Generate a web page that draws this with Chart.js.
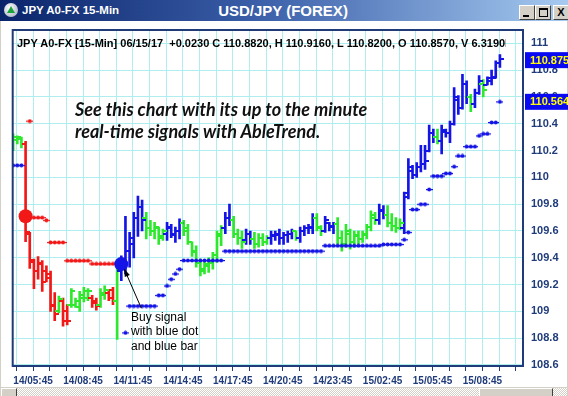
<!DOCTYPE html>
<html>
<head>
<meta charset="utf-8">
<script src="https://cdn.jsdelivr.net/npm/chart.js@4.4.1/dist/chart.umd.min.js"></script>
<style>
  html, body { margin: 0; padding: 0; }
  body { width: 568px; height: 396px; overflow: hidden; position: relative; background: #d4d0c8;
         font-family: Arial, "Liberation Sans", sans-serif; }
  #client { position: absolute; left: 1px; top: 21px; width: 566px; height: 366px; background: #fff; }
  #chart { position: absolute; left: 0; top: 0; z-index: 1; }
  #titlebar { position: absolute; left: 0; top: 0; width: 568px; height: 21px; z-index: 3;
              background: linear-gradient(to right, #0a246a 0%, #3a5ea8 45%, #a6caf0 100%); color: #fff; font-weight: bold; }
  #titlebar .icon { position: absolute; left: 4px; top: 3px; width: 14px; height: 14px; border-radius: 50%;
                    background: radial-gradient(circle at 40% 35%, #ffffff, #9aa4b8); }
  #titlebar .icon::after { content: ""; position: absolute; left: 3px; top: 3px; border-left: 4px solid transparent;
                    border-right: 4px solid transparent; border-bottom: 7px solid #1ca43c; }
  #titlebar .left { position: absolute; left: 22px; top: 4px; font-size: 11.5px; line-height: 13px; }
  #titlebar .center { position: absolute; left: 0; width: 566px; top: 2px; text-align: center; font-size: 15px; line-height: 17px; }
  .wbtn { position: absolute; top: 5px; width: 14px; height: 13px; background: #d4d0c8; border: 1px solid;
          border-color: #fff #404040 #404040 #fff; color: #000; font-size: 11px; line-height: 13px; text-align: center; }
  #bmin { left: 519px; } #bmax { left: 535px; } #bclose { left: 553px; }
  #bmin::after { content: ""; position: absolute; left: 3px; top: 9px; width: 6px; height: 2px; background: #000; }
  #bmax::after { content: ""; position: absolute; left: 3px; top: 2px; width: 7px; height: 6px; border: 1px solid #000; border-top-width: 2px; }
  #scroll { position: absolute; left: 1px; top: 388px; width: 566px; height: 8px; z-index: 3;
            background-image: repeating-conic-gradient(#ffffff 0 25%, #d4d0c8 0 50%); background-size: 2px 2px; }
  #scroll .sb { position: absolute; top: 0; height: 7px; background: #d4d0c8; border: 1px solid; border-color: #fff #404040 #404040 #fff; border-bottom: 0; }
  .txt { position: absolute; z-index: 2; white-space: nowrap; color: #000; }
  #header { left: 17px; top: 37px; width: 489px; overflow: hidden; font-size: 11px; font-weight: bold; line-height: 13px; }
  #promo { left: 75px; top: 98px; font-family: Lato, "Open Sans", sans-serif; font-style: italic; font-weight: bold;
           font-size: 18px; line-height: 22px; color: #111; }
  #note { left: 131px; top: 310px; font-size: 12px; line-height: 14.3px; }
</style>
</head>
<body>
<div id="client"></div>
<canvas id="chart" width="568" height="396"></canvas>

<div id="titlebar">
  <div class="icon"></div>
  <div class="left">JPY A0-FX 15-Min</div>
  <div class="center">USD/JPY (FOREX)</div>
  <div class="wbtn" id="bmin"></div>
  <div class="wbtn" id="bmax"></div>
  <div class="wbtn" id="bclose"><b>X</b></div>
</div>
<div id="scroll"><div class="sb" style="left:0;width:14px"></div><div class="sb" style="left:478px;width:72px"></div></div>

<div class="txt" id="header">JPY A0-FX [15-Min] 06/15/17&nbsp; +0.0230 C 110.8820, H 110.9160, L 110.8200, O 110.8570, V 6.3190K</div>
<div class="txt" id="promo">See this chart with its up to the minute<br>real-time signals with AbleTrend.</div>
<div class="txt" id="note">Buy signal<br>with blue dot<br>and blue bar</div>

<script>
// 15-minute bars, one entry per bar (index 0 = first bar on the left)
const timeLabels = ['14/05:45', '14/08:45', '14/11:45', '14/14:45', '14/17:45',
                    '14/20:45', '14/23:45', '15/02:45', '15/05:45', '15/08:45'];
const yTicks = [108.6, 108.8, 109, 109.2, 109.4, 109.6, 109.8, 110, 110.2, 110.4, 110.6, 110.8, 111];

const opens = [
  110.22, 110.28, 110.29, 110.25, 109.58, 109.37, 109.30, 109.35, 109.30, 109.28,
  109.05, 109.00, 109.08, 109.00, 109.05, 109.05, 109.03, 109.10, 109.10, 109.10,
  109.08, 109.05, 109.12, 109.14, 109.16, 109.08, 109.30, 109.35, 109.45, 109.50,
  109.70, 109.78, 109.70, 109.62, 109.60, 109.62, 109.55, 109.58, 109.62, 109.57,
  109.60, 109.66, 109.62, 109.52, 109.45, 109.36, 109.30, 109.34, 109.36, 109.42,
  109.56, 109.62, 109.70, 109.68, 109.58, 109.55, 109.53, 109.58, 109.54, 109.50,
  109.55, 109.52, 109.55, 109.56, 109.57, 109.55, 109.57, 109.58, 109.60, 109.55,
  109.60, 109.62, 109.62, 109.70, 109.62, 109.60, 109.66, 109.63, 109.65, 109.55,
  109.50, 109.58, 109.52, 109.56, 109.54, 109.57, 109.63, 109.70, 109.68, 109.75,
  109.72, 109.66, 109.64, 109.62, 109.62, 109.88, 110.05, 110.02, 110.08, 110.10,
  110.20, 110.33, 110.30, 110.27, 110.34, 110.33, 110.40, 110.58, 110.52, 110.70,
  110.60, 110.55, 110.63, 110.70, 110.69, 110.72, 110.75, 110.857
];
const highs = [
  110.325, 110.31, 110.30, 110.27, 109.59, 109.39, 109.41, 109.38, 109.34, 109.30,
  109.14, 109.115, 109.10, 109.05, 109.17, 109.10, 109.15, 109.18, 109.17, 109.12,
  109.10, 109.17, 109.19, 109.15, 109.18, 109.32, 109.415, 109.71, 109.59, 109.74,
  109.86, 109.83, 109.74, 109.68, 109.665, 109.63, 109.615, 109.665, 109.65, 109.63,
  109.69, 109.68, 109.65, 109.52, 109.49, 109.39, 109.38, 109.40, 109.44, 109.60,
  109.64, 109.74, 109.80, 109.71, 109.615, 109.60, 109.615, 109.60, 109.59, 109.58,
  109.58, 109.565, 109.60, 109.60, 109.615, 109.59, 109.60, 109.615, 109.60, 109.63,
  109.64, 109.65, 109.73, 109.73, 109.64, 109.71, 109.665, 109.665, 109.70, 109.60,
  109.65, 109.615, 109.60, 109.60, 109.60, 109.65, 109.75, 109.74, 109.80, 109.79,
  109.79, 109.73, 109.70, 109.69, 109.89, 110.14, 110.09, 110.11, 110.24, 110.24,
  110.39, 110.36, 110.36, 110.39, 110.36, 110.42, 110.67, 110.61, 110.77, 110.72,
  110.62, 110.66, 110.76, 110.73, 110.75, 110.80, 110.87, 110.916
];
const lows = [
  110.20, 110.25, 110.22, 109.52, 109.32, 109.17, 109.24, 109.15, 109.22, 109.00,
  108.93, 108.99, 108.89, 108.90, 109.03, 109.03, 109.00, 109.07, 109.08, 109.03,
  109.01, 109.03, 109.09, 109.08, 109.05, 108.79, 109.23, 109.28, 109.33, 109.40,
  109.56, 109.60, 109.54, 109.565, 109.54, 109.50, 109.53, 109.53, 109.55, 109.515,
  109.54, 109.565, 109.50, 109.41, 109.33, 109.265, 109.28, 109.29, 109.315, 109.365,
  109.49, 109.58, 109.64, 109.55, 109.50, 109.47, 109.50, 109.50, 109.47, 109.48,
  109.49, 109.50, 109.50, 109.53, 109.50, 109.50, 109.515, 109.54, 109.53, 109.515,
  109.565, 109.58, 109.58, 109.60, 109.565, 109.59, 109.60, 109.58, 109.50, 109.45,
  109.48, 109.465, 109.48, 109.50, 109.515, 109.54, 109.60, 109.65, 109.65, 109.69,
  109.63, 109.60, 109.59, 109.61, 109.58, 109.84, 109.99, 110.00, 110.04, 110.06,
  110.19, 110.26, 110.25, 110.175, 110.30, 110.26, 110.39, 110.47, 110.51, 110.55,
  110.49, 110.52, 110.62, 110.60, 110.69, 110.69, 110.74, 110.82
];
const closes = [
  110.30, 110.30, 110.25, 109.59, 109.38, 109.30, 109.36, 109.22, 109.25, 109.04,
  108.98, 109.09, 108.93, 108.93, 109.15, 109.08, 109.12, 109.15, 109.15, 109.06,
  109.04, 109.14, 109.16, 109.10, 109.08, 109.30, 109.38, 109.45, 109.55, 109.70,
  109.78, 109.68, 109.62, 109.60, 109.63, 109.56, 109.60, 109.63, 109.58, 109.60,
  109.66, 109.60, 109.52, 109.44, 109.36, 109.32, 109.35, 109.37, 109.42, 109.58,
  109.62, 109.70, 109.68, 109.58, 109.55, 109.52, 109.58, 109.54, 109.50, 109.55,
  109.52, 109.55, 109.57, 109.58, 109.55, 109.57, 109.58, 109.60, 109.55, 109.60,
  109.62, 109.63, 109.70, 109.63, 109.60, 109.68, 109.64, 109.65, 109.55, 109.50,
  109.60, 109.52, 109.57, 109.54, 109.58, 109.63, 109.72, 109.68, 109.76, 109.72,
  109.66, 109.64, 109.62, 109.66, 109.85, 110.08, 110.02, 110.08, 110.10, 110.12,
  110.33, 110.30, 110.27, 110.35, 110.33, 110.40, 110.60, 110.52, 110.70, 110.60,
  110.55, 110.63, 110.72, 110.65, 110.74, 110.74, 110.85, 110.882
];
// bar colour per bar: g = green, r = red (sell), b = blue (buy)
const trend = ('ggg' + 'rrrrrrrr' + 'g' + 'rr' + 'ggggg' + 'rr' + 'gg' + 'rr' + 'g' + 'bbbbbb' +
  'ggggg' + 'bbbb' + 'gggggggggg' + 'bb' + 'ggg' + 'bb' + 'gggg' + 'bbbbbb' + 'g' + 'bbbb' + 'gg' +
  'bbb' + 'gggggggggg' + 'bb' + 'gggg' + 'bbbbbbbb' + 'g' + 'bbbbbbb' + 'g' + 'bb' + 'g' + 'bbbb').split('');

// stop dots (null = no dot on that bar)
const blueStops = [
  110.09, 110.09, 110.09, null, null, null, null, null, null, null,
  null, null, null, null, null, null, null, null, null, null,
  null, null, null, null, null, null, null, 108.84, 109.04, 109.04,
  109.04, 109.04, 109.04, 109.04, 109.04, 109.12, 109.12, 109.19, 109.24, 109.28,
  109.315, 109.38, 109.38, 109.38, 109.38, 109.38, 109.38, 109.38, 109.38, 109.38,
  109.38, 109.45, 109.45, 109.45, 109.45, 109.45, 109.45, 109.45, 109.45, 109.45,
  109.45, 109.45, 109.45, 109.45, 109.45, 109.45, 109.45, 109.45, 109.45, 109.45,
  109.45, 109.45, 109.45, 109.45, 109.45, 109.49, 109.49, 109.49, 109.49, 109.49,
  109.49, 109.49, 109.49, 109.49, 109.49, 109.49, 109.49, 109.49, 109.49, 109.50,
  109.50, 109.50, 109.50, 109.50, 109.535, 109.59, 109.76, 109.76, 109.80, 109.80,
  109.91, 110.01, 110.01, 110.01, 110.03, 110.03, 110.08, 110.16, 110.16, 110.23,
  110.23, 110.23, 110.31, 110.325, 110.325, 110.41, 110.41, 110.564
];
const redStops = [
  null, null, null, null, 110.42, 109.70, 109.70, 109.70, 109.68, 109.515,
  109.515, 109.515, 109.515, 109.378, 109.378, 109.378, 109.378, 109.378, 109.378, 109.355,
  109.355, 109.355, 109.355, 109.355, 109.355, 109.355
];

// big signal dots
const signalBars = [3, 26];
const signalPrices = [109.71, 109.353];
const signalTrend = ['r', 'b'];

// price tags on the right axis
const priceTags = [110.875, 110.564];

const COLORS = { r: '#f21818', g: '#2ee82e', b: '#1414e6' };
const FONT = '"Liberation Sans", Arial, sans-serif';
const NAVY = '#1f3b7a';
const GRID_OFFSET = 0.8;   // first hourly grid line, in bars

function tickImage(color, side) {
  const c = document.createElement('canvas');
  c.width = 8; c.height = 2;
  const g = c.getContext('2d');
  g.fillStyle = color;
  g.fillRect(side === 'open' ? 0 : 4, 0, 4, 2);
  return c;
}
function dotImage(color) {
  const c = document.createElement('canvas');
  c.width = 7; c.height = 5;
  const g = c.getContext('2d');
  g.fillStyle = color;
  g.fillRect(0, 2, 7, 1.2);
  g.beginPath(); g.arc(3.5, 2.5, 2, 0, Math.PI * 2); g.fill();
  return c;
}
const openImgs = {}, closeImgs = {};
Object.keys(COLORS).forEach(k => { openImgs[k] = tickImage(COLORS[k], 'open'); closeImgs[k] = tickImage(COLORS[k], 'close'); });

const framePlugin = {
  id: 'frameAndTags',
  afterDraw(chart) {
    const { ctx, chartArea: a, scales } = chart;
    ctx.save();
    ctx.strokeStyle = NAVY;
    ctx.lineWidth = 2;
    ctx.strokeRect(a.left, a.top, a.right - a.left, a.bottom - a.top);

    // arrow pointing at the buy signal
    const sx = scales.x.getPixelForValue(signalBars[1]);
    const sy = scales.y.getPixelForValue(signalPrices[1]);
    const tip = [sx + 3, sy + 5], tail = [sx + 20, sy + 44];
    const ang = Math.atan2(tip[1] - tail[1], tip[0] - tail[0]);
    ctx.strokeStyle = '#000'; ctx.fillStyle = '#000'; ctx.lineWidth = 1;
    ctx.beginPath(); ctx.moveTo(tail[0], tail[1]); ctx.lineTo(tip[0], tip[1]); ctx.stroke();
    ctx.beginPath();
    ctx.moveTo(tip[0], tip[1]);
    ctx.lineTo(tip[0] - 8 * Math.cos(ang - 0.35), tip[1] - 8 * Math.sin(ang - 0.35));
    ctx.lineTo(tip[0] - 8 * Math.cos(ang + 0.35), tip[1] - 8 * Math.sin(ang + 0.35));
    ctx.closePath(); ctx.fill();

    // price tags
    ctx.font = 'bold 11px ' + FONT;
    ctx.textBaseline = 'middle';
    priceTags.forEach(v => {
      const y = scales.y.getPixelForValue(v);
      ctx.fillStyle = '#0a0af2';
      ctx.fillRect(a.right + 2, y - 8, chart.width - a.right - 2, 16);
      ctx.fillStyle = '#ffff00';
      ctx.fillText(v.toFixed(3), a.right + 7, y + 0.5);
    });
    ctx.restore();
  }
};

new Chart(document.getElementById('chart'), {
  type: 'bar',
  data: {
    datasets: [
      {
        type: 'line', label: 'signals', order: 0, showLine: false,
        data: signalBars.map((x, k) => ({ x, y: signalPrices[k] })),
        pointRadius: 7, pointBorderWidth: 0,
        pointBackgroundColor: signalTrend.map(t => COLORS[t])
      },
      {
        type: 'line', label: 'blue stops', order: 1, showLine: false,
        data: blueStops.map((y, x) => ({ x, y })),
        pointStyle: dotImage(COLORS.b)
      },
      {
        type: 'line', label: 'red stops', order: 1, showLine: false,
        data: redStops.map((y, x) => ({ x, y })),
        pointStyle: dotImage(COLORS.r)
      },
      {
        type: 'line', label: 'open', order: 2, showLine: false,
        data: opens.map((y, x) => ({ x, y })),
        pointStyle: c => openImgs[trend[c.dataIndex]]
      },
      {
        type: 'line', label: 'close', order: 2, showLine: false,
        data: closes.map((y, x) => ({ x, y })),
        pointStyle: c => closeImgs[trend[c.dataIndex]]
      },
      {
        type: 'bar', label: 'range', order: 3,
        data: highs.map((h, x) => ({ x, y: [lows[x], h] })),
        backgroundColor: trend.map(t => COLORS[t]),
        barThickness: 2, borderWidth: 0
      }
    ]
  },
  options: {
    responsive: false,
    animation: false,
    events: [],
    layout: { padding: { left: 12.7, top: 30, right: 0, bottom: 0 } },
    plugins: { legend: { display: false }, tooltip: { enabled: false } },
    scales: {
      x: {
        type: 'linear', min: -0.1, max: 122.55, offset: false,
        grid: { color: '#aeeeee', lineWidth: 1, offset: false, drawTicks: true, tickLength: 5, tickColor: NAVY },
        border: { display: false },
        afterBuildTicks: s => {
          const t = [];
          for (let v = GRID_OFFSET; v <= s.max; v += 4) t.push({ value: v });
          s.ticks = t;
        },
        afterFit: s => { s.height = 30; },
        ticks: {
          autoSkip: false, maxRotation: 0, padding: 4, color: NAVY,
          font: { family: FONT, size: 10, weight: 'bold' },
          callback: (v, i) => ((i - 1) % 3 === 0 && timeLabels[(i - 1) / 3]) || ''
        }
      },
      y: {
        position: 'right', min: 108.5925, max: 111.1,
        grid: { color: '#aeeeee', lineWidth: 1, drawTicks: false },
        border: { display: false },
        afterBuildTicks: s => { s.ticks = yTicks.map(v => ({ value: v })); },
        afterFit: s => { s.width = 45; },
        ticks: {
          padding: 8, color: NAVY,
          font: { family: FONT, size: 11, weight: 'bold' },
          callback: v => String(+v.toFixed(1))
        }
      }
    }
  },
  plugins: [framePlugin]
});
</script>
</body>
</html>
